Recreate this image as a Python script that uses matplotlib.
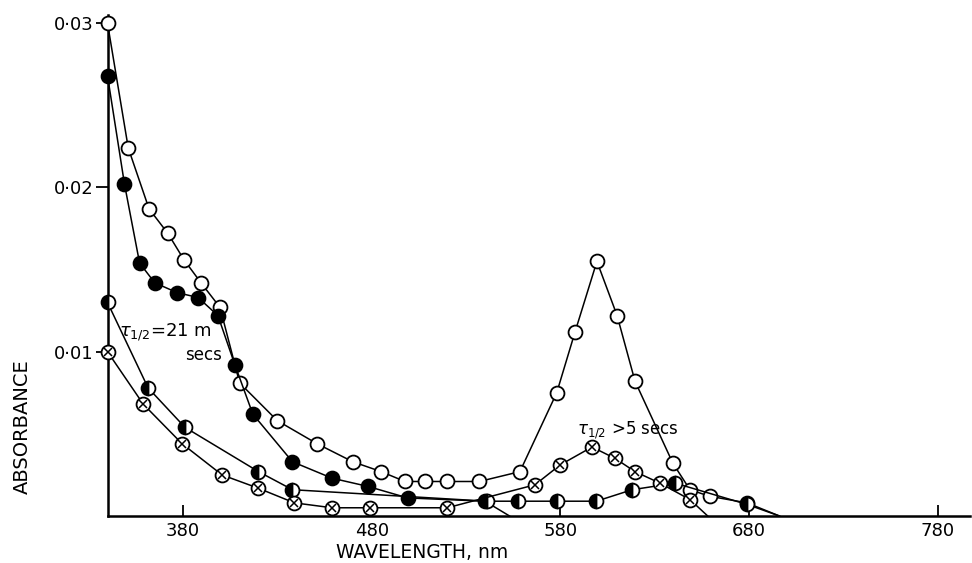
import matplotlib
matplotlib.use('Agg')
import matplotlib.pyplot as plt
import numpy as np

# open circles (main spectrum)
wl_open = [340, 351, 362, 372, 380.5, 389.5, 399.6, 410, 430, 451, 470, 485, 497.6, 508, 520, 537,
           558.5, 578, 587.7, 599.3, 610, 619.5, 639.6, 648.6, 659, 678.8, 696]
ab_open = [0.0300, 0.0224, 0.0187, 0.0172, 0.0156, 0.0142, 0.0127, 0.0081, 0.0058, 0.0044, 0.0033, 0.0027,
           0.0021, 0.0021, 0.0021, 0.0021, 0.0027, 0.0075, 0.0112, 0.0155, 0.0122, 0.0082, 0.0032, 0.0016,
           0.0012, 0.0008, 0.0]

# filled circles
wl_fill = [340, 349, 357, 365, 376.8, 388, 398.5, 407.5, 417, 438, 459, 478, 499, 540, 553]
ab_fill = [0.0268, 0.0202, 0.0154, 0.0142, 0.0136, 0.0133, 0.0122, 0.0092, 0.0062, 0.0033, 0.0023,
           0.0018, 0.0011, 0.0009, 0.0]

# half filled circles
wl_half = [340, 361.5, 381, 420, 438, 541, 557.5, 578, 599, 618, 640.7, 679, 696]
ab_half = [0.0130, 0.0078, 0.0054, 0.0027, 0.0016, 0.0009, 0.0009, 0.0009, 0.0009, 0.0016, 0.0020,
           0.0007, 0.0]

# crossed circles
wl_cross = [340, 359, 379.5, 400.7, 419.7, 439, 459, 479, 520, 566.5, 579.7, 596.7, 609, 619.5, 632.7,
            648.6, 658]
ab_cross = [0.0100, 0.0068, 0.0044, 0.0025, 0.0017, 0.0008, 0.0005, 0.0005, 0.0005, 0.0019, 0.0031,
            0.0042, 0.0035, 0.0027, 0.0020, 0.0010, 0.0]

xticks = [380, 480, 580, 680, 780]
yticks = [0.01, 0.02, 0.03]
ylabels = ['0·01', '0·02', '0·03']

fig = plt.figure(figsize=(9.72, 5.63), dpi=100)
ax = fig.add_axes([0.1106, 0.0835, 0.8874, 0.8899])

ms = 10
lw = 1.1

def curve(x, y, **kw):
    # last point is only where the line reaches the axis, no marker there
    n = len(x)
    ax.plot(x, y, color='k', lw=lw, marker='o', ms=ms, mec='k', mew=1.3,
            markevery=list(range(n - 1)), clip_on=False, **kw)

curve(wl_open, ab_open, mfc='white', zorder=3)
curve(wl_fill, ab_fill, mfc='k', zorder=3)
curve(wl_half, ab_half, mfc='k', mfcalt='white', fillstyle='left', zorder=3)
curve(wl_cross, ab_cross, mfc='white', zorder=3)
ax.plot(wl_cross[:-1], ab_cross[:-1], ls='none', marker='x', ms=6, mec='k', mew=1.1,
        clip_on=False, zorder=4)

ax.set_xlim(340, 797)
ax.set_ylim(0, 0.0305)
ax.spines['top'].set_visible(False)
ax.spines['right'].set_visible(False)
ax.spines['left'].set_linewidth(1.8)
ax.spines['bottom'].set_linewidth(1.8)

ax.set_xticks(xticks)
ax.set_xticklabels([str(t) for t in xticks], fontsize=13)
ax.tick_params(axis='x', direction='in', length=8, width=1.3, pad=4)
ax.set_yticks(yticks)
ax.set_yticklabels(ylabels, fontsize=13)
ax.tick_params(axis='y', direction='out', length=9, width=1.3, pad=1)

ax.text(346, 0.0112, r'$\tau_{1/2}$=21 m', fontsize=13, va='center', ha='left')
ax.text(381, 0.0098, 'secs', fontsize=12, va='center', ha='left')
ax.text(589, 0.0052, r'$\tau_{1/2}$ >5 secs', fontsize=12, va='center', ha='left')

fig.text(0.023, 0.243, 'ABSORBANCE', rotation=90, fontsize=14, ha='center', va='center')
fig.text(0.434, 0.019, 'WAVELENGTH, nm', fontsize=13.5, ha='center', va='center')

fig.savefig('out.png', dpi=100)
